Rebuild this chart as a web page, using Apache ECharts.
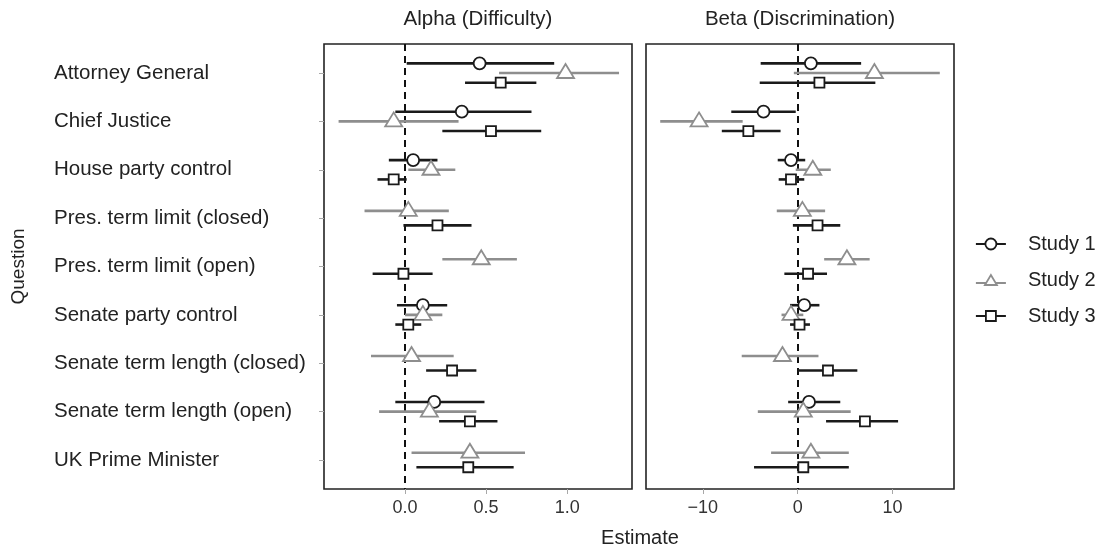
<!DOCTYPE html>
<html>
<head>
<meta charset="utf-8">
<script src="https://cdn.jsdelivr.net/npm/echarts@6/dist/echarts.min.js"></script>
<style>
  html, body { margin: 0; background: #fff; }
  #chart { width: 1100px; height: 551px; }
</style>
</head>
<body>
<div id="chart"></div>
<script>
const questions = [
  'Attorney General', 'Chief Justice', 'House party control',
  'Pres. term limit (closed)', 'Pres. term limit (open)', 'Senate party control',
  'Senate term length (closed)', 'Senate term length (open)', 'UK Prime Minister'
];
const studies = ['Study 1', 'Study 2', 'Study 3'];

// [low, estimate, high] per question, null where the study did not ask it
const alpha1 = [[0.01, 0.46, 0.92], [-0.06, 0.35, 0.78], [-0.10, 0.05, 0.20], null, null,
  [-0.05, 0.11, 0.26], null, [-0.06, 0.18, 0.49], null];
const alpha2 = [[0.58, 0.99, 1.32], [-0.41, -0.07, 0.33], [0.02, 0.16, 0.31], [-0.25, 0.02, 0.27],
  [0.23, 0.47, 0.69], [0.00, 0.11, 0.23], [-0.21, 0.04, 0.30], [-0.16, 0.15, 0.44], [0.04, 0.40, 0.74]];
const alpha3 = [[0.37, 0.59, 0.81], [0.23, 0.53, 0.84], [-0.17, -0.07, 0.01], [-0.01, 0.20, 0.41],
  [-0.20, -0.01, 0.17], [-0.06, 0.02, 0.10], [0.13, 0.29, 0.44], [0.21, 0.40, 0.57], [0.07, 0.39, 0.67]];

const beta1 = [[-3.9, 1.4, 6.7], [-7.0, -3.6, -0.2], [-2.1, -0.7, 0.8], null, null,
  [-0.8, 0.7, 2.3], null, [-1.0, 1.2, 4.5], null];
const beta2 = [[-0.4, 8.1, 15.0], [-14.5, -10.4, -5.8], [-0.2, 1.6, 3.5], [-2.2, 0.5, 2.9],
  [2.8, 5.2, 7.6], [-1.7, -0.7, 0.6], [-5.9, -1.6, 2.2], [-4.2, 0.6, 5.6], [-2.8, 1.4, 5.4]];
const beta3 = [[-4.0, 2.3, 8.2], [-8.0, -5.2, -1.8], [-2.0, -0.7, 0.7], [-0.5, 2.1, 4.5],
  [-1.4, 1.1, 3.1], [-0.8, 0.2, 1.3], [0.0, 3.2, 6.3], [3.0, 7.1, 10.6], [-4.6, 0.6, 5.4]];

const alphaTicks = [0, 0.5, 1.0];
const betaTicks = [-10, 0, 10];

const colors = ['#1a1a1a', '#8e8e8e', '#1a1a1a'];
const shapes = ['circle', 'triangle', 'square'];
const font = 'Liberation Sans, Arial, Helvetica, sans-serif';

// dodge: slot within the row and number of studies present in that row
function buildData(sets, k) {
  const out = [];
  sets[k].forEach((v, i) => {
    if (!v) return;
    const present = sets.map((s, j) => s[i] ? j : -1).filter(j => j >= 0);
    out.push([v[0], v[1], v[2], i, present.length, present.indexOf(k)]);
  });
  return out;
}

function drawEstimate(shape, color) {
  return function (params, api) {
    const row = api.value(3);
    const n = api.value(4);
    const unit = api.size([0, 1])[1];
    const dy = (api.value(5) - (n - 1) / 2) * 0.6 / n * unit;
    const lo = api.coord([api.value(0), row]);
    const mid = api.coord([api.value(1), row]);
    const hi = api.coord([api.value(2), row]);
    const y = mid[1] + dy;
    const x = mid[0];
    const mark = { style: { fill: '#fff', stroke: color, lineWidth: 1.8 } };
    if (shape === 'circle') {
      mark.type = 'circle';
      mark.shape = { cx: x, cy: y, r: 6 };
    } else if (shape === 'triangle') {
      mark.type = 'polygon';
      mark.shape = { points: [[x, y - 9], [x + 8.5, y + 5], [x - 8.5, y + 5]] };
    } else {
      mark.type = 'rect';
      mark.shape = { x: x - 5, y: y - 5, width: 10, height: 10 };
    }
    return {
      type: 'group',
      children: [
        { type: 'line', shape: { x1: lo[0], y1: y, x2: hi[0], y2: y },
          style: { stroke: color, lineWidth: 2.6 } },
        mark
      ]
    };
  };
}

const alphaSets = [alpha1, alpha2, alpha3];
const betaSets = [beta1, beta2, beta3];

const series = [];
[alphaSets, betaSets].forEach((sets, g) => {
  studies.forEach((name, k) => {
    const s = {
      type: 'custom',
      name: name,
      xAxisIndex: g,
      yAxisIndex: g,
      itemStyle: { color: colors[k] },
      encode: { x: [0, 1, 2], y: 3 },
      renderItem: drawEstimate(shapes[k], colors[k]),
      data: buildData(sets, k),
      z: 3 + k
    };
    if (k === 0) {
      s.markLine = {
        silent: true,
        symbol: 'none',
        label: { show: false },
        lineStyle: { color: '#111', type: [7, 5], width: 2 },
        data: [{ xAxis: 0 }],
        z: 1
      };
    }
    series.push(s);
  });
});

const legendIcons = [
  'path://M0,5.5L9.5,5.5M20.5,5.5L30,5.5M20.5,5.5A5.5,5.5,0,1,1,9.5,5.5A5.5,5.5,0,1,1,20.5,5.5Z',
  'path://M0,8L10.2,8M19.8,8L30,8M15,0L21,10L9,10Z',
  'path://M0,5L10,5M20,5L30,5M10,0L20,0L20,10L10,10Z'
];

const rowTicks = questions.map((q, i) => i);

function yAxis(gridIndex, withLabels) {
  return {
    type: 'value',
    gridIndex: gridIndex,
    min: -0.6,
    max: 8.6,
    inverse: true,
    splitLine: { show: false },
    axisLine: { show: false, onZero: false },
    axisTick: withLabels
      ? { show: true, customValues: rowTicks, length: 5, lineStyle: { color: '#a8a8a8', width: 1 } }
      : { show: false },
    axisLabel: withLabels
      ? { show: true, customValues: rowTicks, formatter: v => questions[Math.round(v)],
          align: 'left', margin: 270, fontSize: 20.5, color: '#222', fontFamily: font }
      : { show: false },
    name: withLabels ? 'Question' : '',
    nameLocation: 'middle',
    nameRotate: 90,
    nameGap: 296,
    nameTextStyle: { fontSize: 19, color: '#222', fontFamily: font }
  };
}

function xAxis(gridIndex, min, max, ticks, fmt) {
  return {
    type: 'value',
    gridIndex: gridIndex,
    min: min,
    max: max,
    splitLine: { show: false },
    axisLine: { show: false, onZero: false },
    axisTick: { show: true, customValues: ticks, length: 5, lineStyle: { color: '#a8a8a8', width: 1 } },
    axisLabel: { customValues: ticks, formatter: fmt, fontSize: 18, color: '#333',
      margin: 10, fontFamily: font }
  };
}

const chart = echarts.init(document.getElementById('chart'), null, { renderer: 'canvas' });
chart.setOption({
  animation: false,
  backgroundColor: '#fff',
  textStyle: { fontFamily: font },
  title: [
    { text: 'Alpha (Difficulty)', left: 478, top: 9, textAlign: 'center', padding: 0,
      textStyle: { fontSize: 20.5, fontWeight: 'normal', color: '#222', fontFamily: font } },
    { text: 'Beta (Discrimination)', left: 800, top: 9, textAlign: 'center', padding: 0,
      textStyle: { fontSize: 20.5, fontWeight: 'normal', color: '#222', fontFamily: font } },
    { text: 'Estimate', left: 640, top: 528, textAlign: 'center', padding: 0,
      textStyle: { fontSize: 20, fontWeight: 'normal', color: '#222', fontFamily: font } }
  ],
  legend: {
    orient: 'vertical',
    left: 970,
    top: 229,
    itemWidth: 30,
    itemHeight: 12,
    itemGap: 16,
    selectedMode: false,
    textStyle: { fontSize: 20, color: '#222', fontFamily: font, padding: [0, 0, 0, 17] },
    data: studies.map((name, k) => ({
      name: name,
      icon: legendIcons[k],
      itemStyle: { color: '#fff', borderColor: colors[k], borderWidth: 1.8 }
    }))
  },
  grid: [
    { left: 324, top: 44, width: 308, height: 445, show: true, borderColor: '#222', borderWidth: 1.6 },
    { left: 646, top: 44, width: 308, height: 445, show: true, borderColor: '#222', borderWidth: 1.6 }
  ],
  xAxis: [
    xAxis(0, -0.5, 1.4, alphaTicks, v => v.toFixed(1)),
    xAxis(1, -16, 16.5, betaTicks, v => (v < 0 ? '\u2212' + Math.abs(v) : String(v)))
  ],
  yAxis: [yAxis(0, true), yAxis(1, false)],
  series: series
});
</script>
</body>
</html>
